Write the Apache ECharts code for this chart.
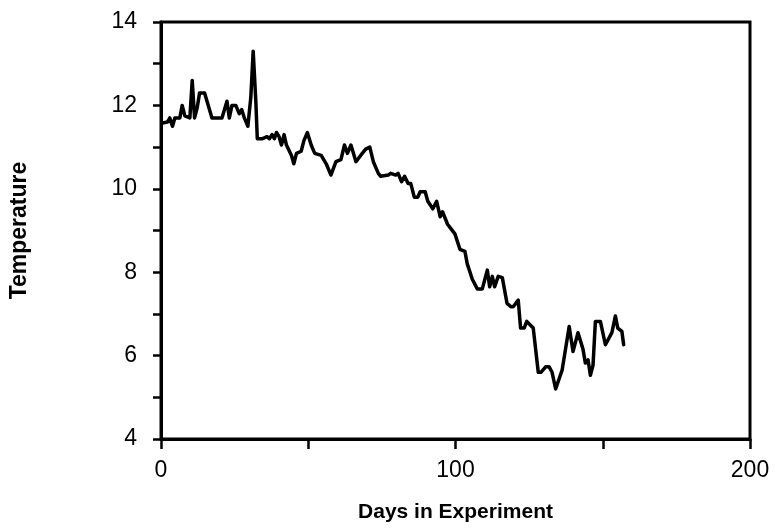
<!DOCTYPE html>
<html><head><meta charset="utf-8">
<script src="https://cdn.jsdelivr.net/npm/echarts@6/dist/echarts.min.js"></script>
<style>html,body{margin:0;padding:0;background:#fff}#c{width:777px;height:528px}</style>
</head><body><div id="c"></div>
<script>
const days = [0.5,2.2,3,3.9,4.7,6.4,7.2,8.1,9.8,10.6,11.4,12.3,13.1,14.8,17.3,20.7,22.4,23.2,24.1,25.4,26.6,27.4,28.3,29.5,30.5,31.3,32.2,32.7,34.3,36,36.8,37.7,38.5,39.2,40.1,40.9,41.8,42.6,44.3,45.1,46,47.6,48.5,49.7,51,52.2,54.4,56.1,57.7,59.4,61.1,62.3,63.3,64.5,66.2,67.8,69.5,70.9,72.1,73.8,74.6,77.2,78,79.7,80.5,81.7,82.7,83.9,84.8,86,87.2,88,89.7,90.6,92.3,93.6,94.8,95.6,97.3,98.5,99.8,101.5,103.2,104,105.7,107.4,109.1,110.8,111.6,112.5,113.3,114.5,115.9,117.5,118.9,119.6,121.3,122.1,123.3,124.2,126.4,128.1,129,130.6,131.8,132.8,134,136.2,138.6,139.1,139.9,141.6,143.3,144.1,145,145.8,146.7,147.5,149.2,150.9,153.1,154.3,155.1,156.5,157.1];
const temps = [11.58,11.6,11.7,11.5,11.7,11.7,12.0,11.75,11.7,12.6,11.7,11.95,12.3,12.3,11.7,11.7,12.1,11.7,12.0,12.0,11.8,11.9,11.7,11.5,12.2,13.3,12.1,11.2,11.2,11.25,11.2,11.3,11.2,11.35,11.25,11.05,11.3,11.05,10.8,10.6,10.85,10.9,11.15,11.35,11.05,10.85,10.8,10.6,10.33,10.65,10.7,11.05,10.85,11.05,10.65,10.8,10.95,11.0,10.65,10.37,10.3,10.33,10.37,10.33,10.37,10.17,10.3,10.13,10.13,9.8,9.8,9.93,9.93,9.7,9.52,9.7,9.33,9.45,9.15,9.04,8.92,8.55,8.5,8.2,7.83,7.6,7.6,8.05,7.65,7.9,7.65,7.9,7.87,7.25,7.17,7.17,7.33,6.66,6.66,6.82,6.66,5.6,5.6,5.73,5.73,5.6,5.2,5.65,6.7,6.7,6.1,6.55,6.15,5.82,5.9,5.53,5.77,6.82,6.82,6.26,6.55,6.95,6.66,6.58,6.26,6.22];
const xLabels = [0, 100, 200];
const yLabels = [4, 6, 8, 10, 12, 14];
const xTitle = 'Days in Experiment';
const yTitle = 'Temperature';

const chart = echarts.init(document.getElementById('c'), null, {renderer: 'canvas'});
const font = 'Liberation Sans, Arial, Helvetica, sans-serif';
chart.setOption({
  animation: false,
  backgroundColor: '#fff',
  grid: {left: 161, right: 27, top: 22, bottom: 89, show: true, borderColor: '#000', borderWidth: 3, backgroundColor: 'transparent'},
  xAxis: {
    type: 'value', min: 0, max: 200, interval: 50,
    name: xTitle, nameLocation: 'middle', nameGap: 63,
    nameTextStyle: {fontFamily: font, fontWeight: 'bold', fontSize: 21, color: '#000'},
    axisLine: {show: true, lineStyle: {color: '#000', width: 3}},
    axisTick: {show: true, length: 10, lineStyle: {color: '#000', width: 2.5}},
    axisLabel: {margin: 20, fontFamily: font, fontSize: 23, color: '#000',
      formatter: v => xLabels.includes(v) ? String(v) : ''},
    splitLine: {show: false}
  },
  yAxis: {
    type: 'value', min: 4, max: 14, interval: 1,
    name: yTitle, nameLocation: 'middle', nameGap: 130, nameRotate: 90,
    nameTextStyle: {fontFamily: font, fontWeight: 'bold', fontSize: 23, color: '#000'},
    axisLine: {show: true, lineStyle: {color: '#000', width: 3}},
    axisTick: {show: true, length: 8, lineStyle: {color: '#000', width: 2.5}},
    axisLabel: {margin: 24, fontFamily: font, fontSize: 23, color: '#000',
      formatter: v => yLabels.includes(v) ? String(v) : ''},
    splitLine: {show: false}
  },
  series: [{
    type: 'line',
    data: days.map((d, i) => [d, temps[i]]),
    showSymbol: false,
    lineStyle: {color: '#000', width: 3.5, join: 'round', cap: 'round'},
    itemStyle: {color: '#000'}
  }]
});
</script></body></html>
